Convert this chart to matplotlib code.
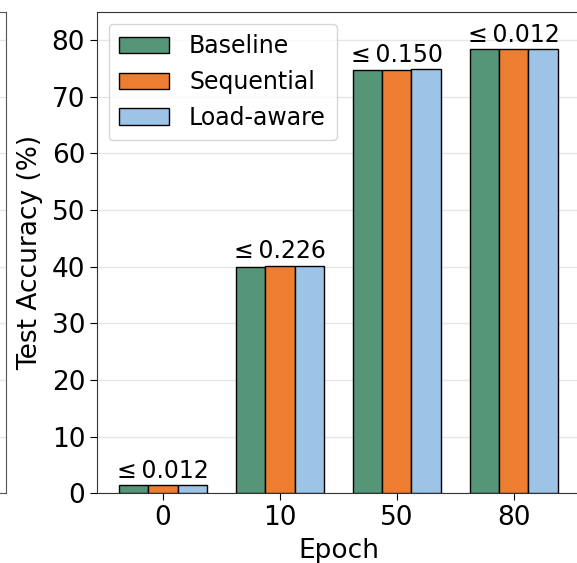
import matplotlib
matplotlib.use("Agg")
import matplotlib.pyplot as plt
import numpy as np

epochs = ["0", "10", "50", "80"]
series_names = ["Baseline", "Sequential", "Load-aware"]
baseline = [1.4, 40.0, 74.7, 78.5]
sequential = [1.4, 40.1, 74.7, 78.5]
load_aware = [1.4, 40.2, 74.9, 78.5]
max_gap = ["0.012", "0.226", "0.150", "0.012"]

colors = ["#559679", "#ed7d31", "#9dc3e6"]

plt.rcParams["font.family"] = ["DejaVu Sans"]

fig = plt.figure(figsize=(5.77, 5.63), dpi=100)

# neighbouring panel (only its right edge falls inside the figure)
ax_prev = fig.add_axes([-0.8, 0.124, 0.8105, 0.855])
ax_prev.set_ylim(0, 85)
ax_prev.set_yticks(np.arange(0, 81, 10))
ax_prev.grid(axis="y", color="#e6e6e6", linewidth=1.0)
ax_prev.set_xticks([])
ax_prev.tick_params(labelleft=False, left=False)
for s in ax_prev.spines.values():
    s.set_color("#555555")

ax = fig.add_axes([0.168, 0.124, 0.837, 0.855])

x = np.arange(len(epochs))
width = 0.25
all_series = [baseline, sequential, load_aware]
for i, (vals, name, c) in enumerate(zip(all_series, series_names, colors)):
    ax.bar(x + (i - 1) * width, vals, width, label=name, color=c,
           edgecolor="black", linewidth=1.0, zorder=3)

for xi, gap, top in zip(x, max_gap, np.max(all_series, axis=0)):
    ax.annotate("\u2264\u2009" + gap, (xi, top), xytext=(0, 1.5),
                textcoords="offset points", ha="center", va="bottom",
                fontsize=17)

ax.set_xlim(-0.565, 3.565)
ax.set_ylim(0, 85)
ax.set_yticks(np.arange(0, 81, 10))
ax.set_xticks(x)
ax.set_xticklabels(epochs)
ax.tick_params(labelsize=19, length=5)
ax.grid(axis="y", color="#e6e6e6", linewidth=1.0, zorder=0)
ax.set_axisbelow(True)
ax.set_xlabel("Epoch", fontsize=19, labelpad=5)
ax.set_ylabel("Test Accuracy (%)", fontsize=19, labelpad=6)
for s in ax.spines.values():
    s.set_color("#333333")

ax.legend(loc="upper left", fontsize=17, frameon=True, framealpha=0.8,
          edgecolor="#cccccc", handlelength=2.1, handletextpad=0.85,
          borderpad=0.45, labelspacing=0.5)

fig.savefig("out.png", dpi=100)
